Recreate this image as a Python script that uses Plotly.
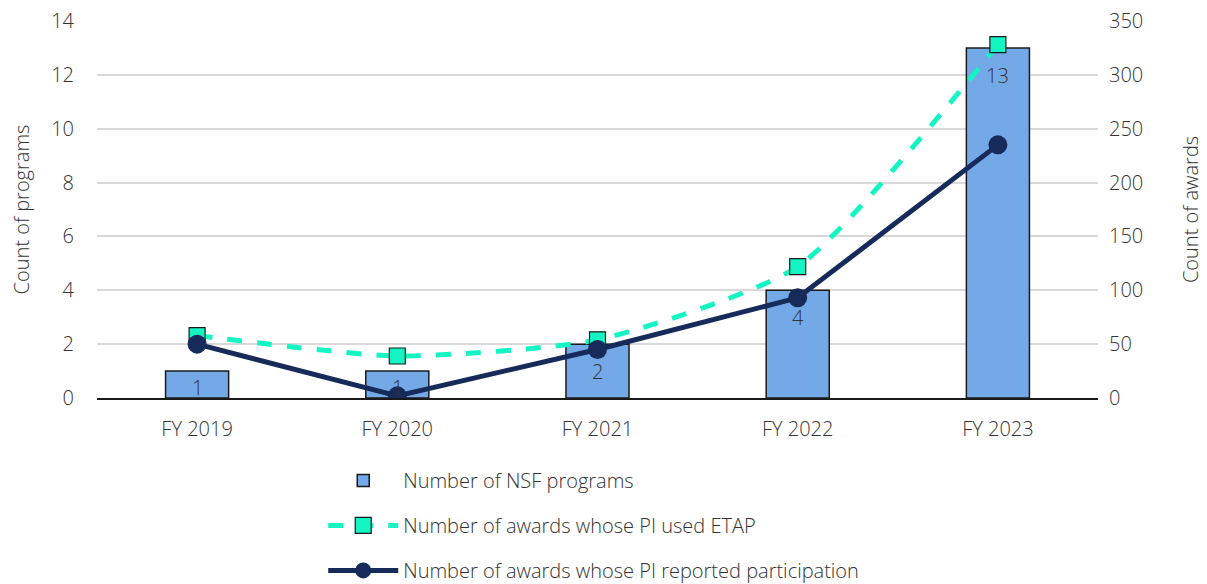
import plotly.graph_objects as go

categories = ["FY 2019", "FY 2020", "FY 2021", "FY 2022", "FY 2023"]
programs = [1, 1, 2, 4, 13]
etap_awards = [58, 39, 54, 122, 328]
participation_awards = [50, 2, 45, 93, 235]

left_ticks = [0, 2, 4, 6, 8, 10, 12, 14]
right_ticks = [0, 50, 100, 150, 200, 250, 300, 350]

FONT = "Open Sans"
TXT = "#333333"
FS = 20


def f(size=FS):
    return dict(family=FONT, size=size, color=TXT, weight=300)


fig = go.Figure()
fig.add_trace(go.Bar(
    x=categories, y=programs, name="Number of NSF programs",
    marker=dict(color="#74A9E8", line=dict(color="#1a1a1a", width=1.5)),
    width=0.315, legendgroup="a",
))
fig.add_trace(go.Scatter(
    x=categories, y=etap_awards, name="Number of awards whose PI used ETAP",
    yaxis="y2", mode="lines+markers",
    line=dict(color="#14F5C3", width=5, dash="dash", shape="spline", smoothing=0.6),
    marker=dict(symbol="square", size=16, color="#14F5C3", line=dict(color="#1a1a1a", width=1.2)),
    legendgroup="b",
))
fig.add_trace(go.Scatter(
    x=categories, y=participation_awards, name="Number of awards whose PI reported participation",
    yaxis="y2", mode="lines+markers",
    line=dict(color="#172B5A", width=5),
    marker=dict(symbol="circle", size=19, color="#172B5A"),
    legendgroup="c",
))

annotations = []
for c, v in zip(categories, programs):
    annotations.append(dict(
        x=c, y=v, xref="x", yref="y", text=str(v), showarrow=False,
        yanchor="top", yshift=-1 if v <= 1 else -12,
        font=f(),
    ))

fig.update_layout(
    width=1199, height=576,
    margin=dict(l=89, r=109, t=13, b=186, autoexpand=False),
    paper_bgcolor="white", plot_bgcolor="white",
    font=f(),
    bargap=0.685,
    showlegend=True,
    legend=dict(
        x=0.226, y=-0.167, xanchor="left", yanchor="top",
        orientation="v", traceorder="grouped", tracegroupgap=16,
        font=f(),
        itemwidth=70, bgcolor="rgba(0,0,0,0)",
    ),
    xaxis=dict(
        showgrid=False, showline=True, linecolor="#1a1a1a", linewidth=1.5,
        ticks="", ticklabelstandoff=12, automargin=False,
        tickfont=f(),
    ),
    yaxis=dict(
        range=[0, 14], tickvals=left_ticks, showgrid=True, gridcolor="#d9d9d9", gridwidth=1.5,
        zeroline=False, showline=False, ticks="", ticklabelstandoff=22, automargin=False,
        ticklabeloverflow="allow",
        tickfont=f(),
        title=dict(text="Count of programs", font=f(), standoff=25),
    ),
    yaxis2=dict(
        range=[0, 350], tickvals=right_ticks, overlaying="y", side="right",
        showgrid=False, zeroline=False, showline=False, ticks="", ticklabelstandoff=10,
        automargin=False, ticklabeloverflow="allow",
        tickfont=f(),
        title=dict(text="Count of awards", font=f(), standoff=41),
    ),
    annotations=annotations,
)

fig.write_html("out.html")
